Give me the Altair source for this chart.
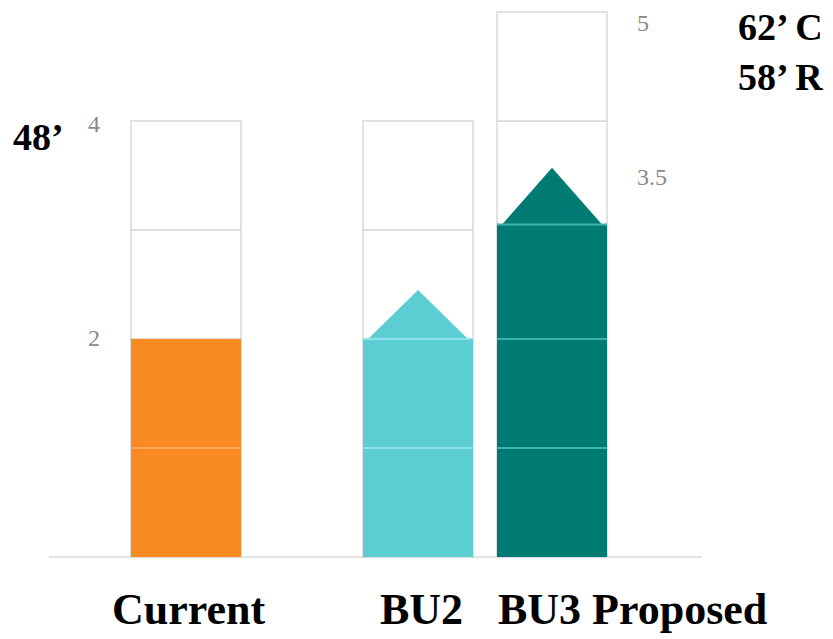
import altair as alt
import pandas as pd

# ---------------- data ----------------
categories = ["Current", "BU2", "BU3 Proposed"]
box_counts = [4, 4, 5]              # number of empty level boxes per column
fill_levels = [2.0, 2.0, 3.05]      # filled height (levels)
arrow_tips = [None, 2.45, 3.57]     # tip of the upward arrow (levels)
left_tick_labels = ["4", "2"]
left_tick_values = [4, 2]
right_tick_labels = ["5", "3.5"]
right_tick_values = [5, 3.5]
left_notes = ["48’"]
right_notes = ["62’ C", "58’ R"]

# ---------------- layout / style ----------------
COL_LEFT = [131, 363, 497]
COL_W = 110
ARROW_INSET = 5
fill_colors = ["#F98A23", "#5DCDD4", "#007B74"]
line_colors = ["#FBA75C", "#8DE2E7", "#3DB3AC"]
LABEL_LEFT = [112, 380, 498]
LEFT_TICK_X = 88
RIGHT_TICK_X = 637
left_tick_dy = [4, 0]
right_tick_dy = [12, 2]
LEFT_NOTE_POS = [(13, 3.73)]
RIGHT_NOTE_POS = [(738, 4.74), (738, 4.28)]
LABEL_Y = -0.615

W, H = 833, 639
xs = alt.Scale(domain=[0, W], nice=False, zero=False)
ys = alt.Scale(domain=[-0.752, 5.11], nice=False, zero=False)
fill_scale = alt.Scale(domain=categories, range=fill_colors)
stroke_scale = alt.Scale(domain=categories, range=line_colors)

# ---------------- tables ----------------
boxes, fills, lines, arrows = [], [], [], []
for c, n, f, t, xl in zip(categories, box_counts, fill_levels, arrow_tips, COL_LEFT):
    xr = xl + COL_W
    for i in range(n):
        boxes.append({"cat": c, "x": xl, "x2": xr, "y": i, "y2": i + 1})
    fills.append({"cat": c, "x": xl, "x2": xr, "y": 0, "y2": f})
    k = 1
    while k < f - 0.1:
        lines.append({"cat": c, "x": xl, "x2": xr, "y": k})
        k += 1
    if t is not None:
        lines.append({"cat": c, "x": xl, "x2": xr, "y": f})
        arrows += [
            {"cat": c, "x": xl + ARROW_INSET, "y": f, "y2": f},
            {"cat": c, "x": (xl + xr) / 2, "y": t, "y2": f},
            {"cat": c, "x": xr - ARROW_INSET, "y": f, "y2": f},
        ]

df_boxes = pd.DataFrame(boxes)
df_fill = pd.DataFrame(fills)
df_lines = pd.DataFrame(lines)
df_arrows = pd.DataFrame(arrows)
df_base = pd.DataFrame([{"x": 49, "x2": 702, "y": 0}])

tick_rows = [(l, LEFT_TICK_X, v, d) for l, v, d in zip(left_tick_labels, left_tick_values, left_tick_dy)] + \
            [(l, RIGHT_TICK_X, v, d) for l, v, d in zip(right_tick_labels, right_tick_values, right_tick_dy)]
df_notes = pd.DataFrame(
    [{"t": l, "x": p[0], "y": p[1]} for l, p in zip(left_notes, LEFT_NOTE_POS)]
    + [{"t": l, "x": p[0], "y": p[1]} for l, p in zip(right_notes, RIGHT_NOTE_POS)]
)
df_labels = pd.DataFrame([{"t": c, "x": x, "y": LABEL_Y} for c, x in zip(categories, LABEL_LEFT)])

X = lambda: alt.X("x:Q", scale=xs, axis=None)
Y = lambda: alt.Y("y:Q", scale=ys, axis=None)

base = alt.Chart(df_base).mark_rule(color="#e3e3e3", strokeWidth=2).encode(X(), x2="x2:Q", y=Y())

box_layer = alt.Chart(df_boxes).mark_rect(fill="white", stroke="#d9d9d9", strokeWidth=1.5).encode(
    X(), x2="x2:Q", y=Y(), y2="y2:Q"
)

fill_layer = alt.Chart(df_fill).mark_rect().encode(
    X(), x2="x2:Q", y=Y(), y2="y2:Q",
    fill=alt.Fill("cat:N", scale=fill_scale, legend=None),
)

arrow_layer = alt.Chart(df_arrows).mark_area().encode(
    X(), y=Y(), y2="y2:Q",
    fill=alt.Fill("cat:N", scale=fill_scale, legend=None),
    detail="cat:N",
)

line_layer = alt.Chart(df_lines).mark_rule(strokeWidth=2).encode(
    X(), x2="x2:Q", y=Y(),
    stroke=alt.Stroke("cat:N", scale=stroke_scale, legend=None),
)

tick_layers = [
    alt.Chart(pd.DataFrame([{"t": l, "x": x, "y": v}])).mark_text(
        font="Liberation Serif", fontSize=24, color="#8a8a8a", align="left", baseline="middle", dy=d
    ).encode(X(), y=Y(), text="t:N")
    for (l, x, v, d) in tick_rows
]

note_layer = alt.Chart(df_notes).mark_text(
    font="Liberation Serif", fontSize=38, fontWeight="bold", color="black", align="left", baseline="alphabetic"
).encode(X(), y=Y(), text="t:N")

label_layer = alt.Chart(df_labels).mark_text(
    font="Liberation Serif", fontSize=44, fontWeight="bold", color="black", align="left", baseline="alphabetic"
).encode(X(), y=Y(), text="t:N")

chart = alt.layer(
    base, box_layer, fill_layer, arrow_layer, line_layer, *tick_layers, note_layer, label_layer
).properties(
    width=W, height=H, autosize=alt.AutoSizeParams(type="none"), padding=0, background="white"
).configure_view(strokeWidth=0)

chart.save("out.html", embed_options={"renderer": "svg", "actions": False})
